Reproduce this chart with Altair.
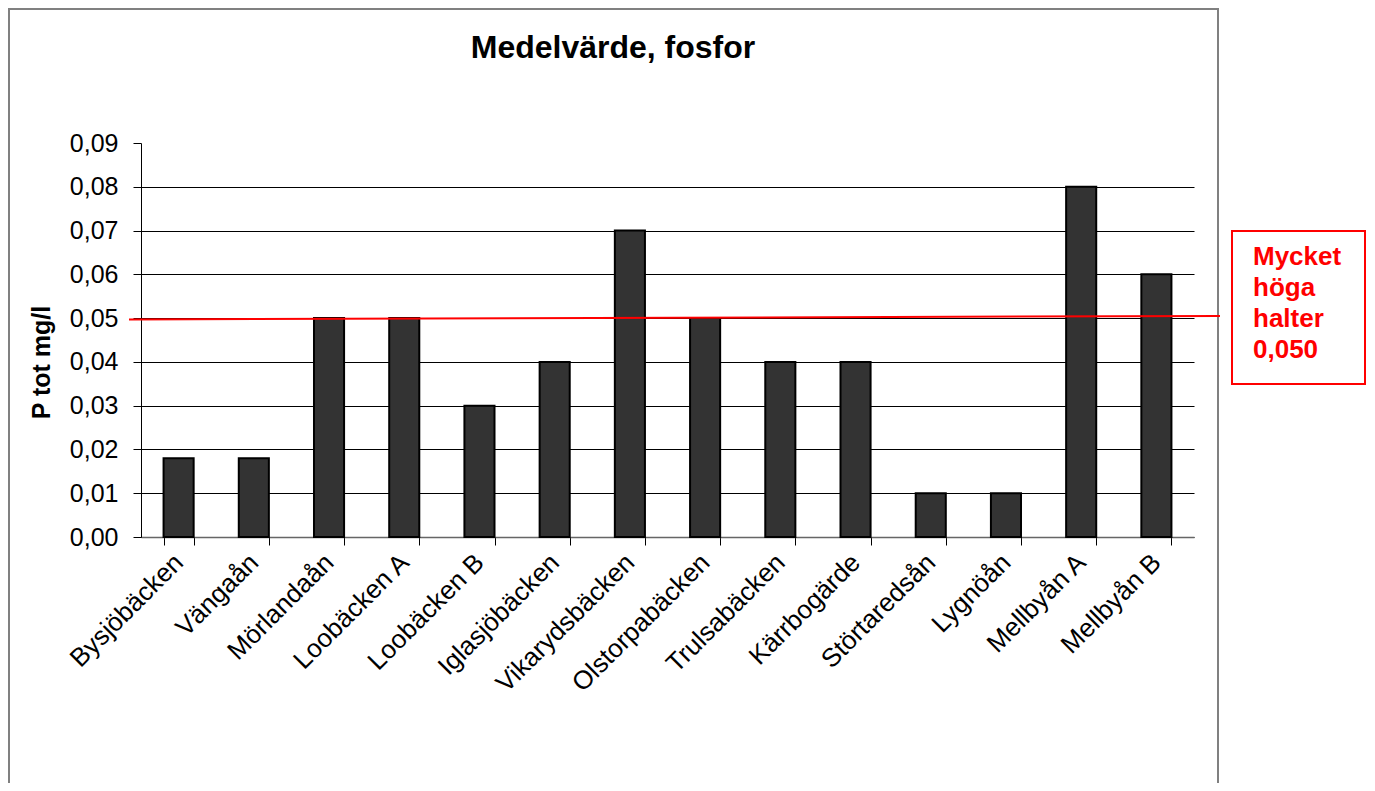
import altair as alt
import pandas as pd

# ---- data ----
stations = ["Bysjöbäcken", "Vängaån", "Mörlandaån", "Loobäcken A", "Loobäcken B",
            "Iglasjöbäcken", "Vikarydsbäcken", "Olstorpabäcken", "Trulsabäcken",
            "Kärrbogärde", "Störtaredsån", "Lygnöån", "Mellbyån A", "Mellbyån B"]
p_tot = [0.018, 0.018, 0.05, 0.05, 0.03, 0.04, 0.07, 0.05, 0.04, 0.04,
         0.01, 0.01, 0.08, 0.06]
y_ticks = [0.0, 0.01, 0.02, 0.03, 0.04, 0.05, 0.06, 0.07, 0.08, 0.09]
threshold_ends = [0.0497, 0.0505]   # red guide line (drawn slightly tilted in the original)
annotation_lines = ["Mycket", "höga", "halter", "0,050"]
chart_title = "Medelvärde, fosfor"
y_title = "P tot mg/l"

FONT = "Liberation Sans"
W, H = 1053, 394

df = pd.DataFrame({"station": stations, "p": p_tot})
thr = pd.DataFrame({"y1": [threshold_ends[0]], "y2": [threshold_ends[1]]})
one = pd.DataFrame({"k": [0]})

y_scale = alt.Scale(domain=[y_ticks[0], y_ticks[-1]], nice=False)

bars = alt.Chart(df).mark_bar(color="#333333", stroke="#000000", strokeWidth=2).encode(
    x=alt.X("station:N", sort=stations,
            scale=alt.Scale(paddingInner=0.6, paddingOuter=0.3),
            axis=alt.Axis(title=None, labelAngle=-45, labelAlign="right",
                          labelBaseline="middle", labelFontSize=26, labelFont=FONT,
                          labelColor="#000000", labelPadding=13, tickBand="extent",
                          tickSize=8, tickColor="#000000", domainColor="#666666",
                          domainWidth=1.5, grid=False, labelLimit=400)),
    y=alt.Y("p:Q", scale=y_scale,
            axis=alt.Axis(title=y_title, values=y_ticks,
                          labelExpr="replace(format(datum.value, '.2f'), '.', ',')",
                          labelFontSize=25, labelFont=FONT, labelColor="#000000",
                          labelPadding=15, tickSize=8, tickColor="#000000",
                          domainColor="#000000", grid=True, gridColor="#000000",
                          gridWidth=1,
                          gridOpacity={"condition": {"test": "datum.value > 0.085", "value": 0},
                                       "value": 1},
                          titleFontSize=25, titleFont=FONT, titleFontWeight="bold",
                          titleColor="#000000", titleAngle=-90, titleX=-100, titleY=219,
                          titleAlign="center", titleBaseline="middle")),
)

border = alt.Chart(one).mark_rect(fillOpacity=0, stroke="#808080", strokeWidth=2).encode(
    x=alt.value(-132), x2=alt.value(1077), y=alt.value(-134), y2=alt.value(700))

red_line = alt.Chart(thr).mark_rule(color="#ff0000", strokeWidth=2).encode(
    x=alt.value(-12), x2=alt.value(W + 26), y=alt.Y("y1:Q", scale=y_scale), y2="y2:Q")

box = alt.Chart(one).mark_rect(fillOpacity=0, stroke="#ff0000", strokeWidth=2).encode(
    x=alt.value(1091), x2=alt.value(1224), y=alt.value(88), y2=alt.value(241))

box_text = alt.Chart(one).mark_text(
    align="left", baseline="alphabetic", lineBreak="\n", lineHeight=31,
    fontSize=26, fontWeight="bold", font=FONT, color="#ff0000").encode(
    x=alt.value(1112), y=alt.value(122), text=alt.value("\n".join(annotation_lines)))

title = alt.Chart(one).mark_text(
    align="center", baseline="alphabetic", fontSize=32, fontWeight="bold",
    font=FONT, color="#000000").encode(
    x=alt.value(472), y=alt.value(-85), text=alt.value(chart_title))

chart = alt.layer(border, bars, red_line, box, box_text, title).properties(
    width=W, height=H, autosize="none",
    padding={"left": 133, "top": 135, "right": 173, "bottom": 246},
    background="#ffffff",
).configure_view(stroke=None)

chart.save("out.html", embed_options={"renderer": "svg", "actions": False})
